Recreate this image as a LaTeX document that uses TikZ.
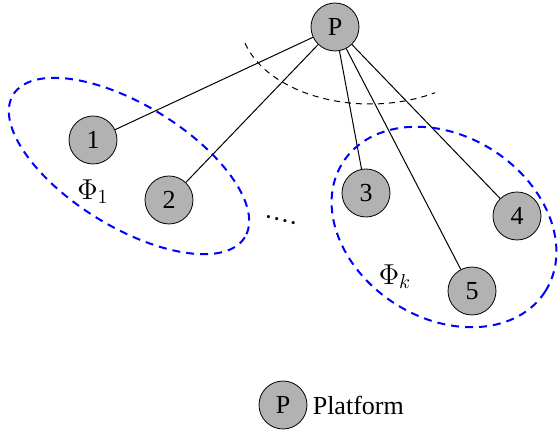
\documentclass[tikz,border=0pt]{standalone}
\usepackage{fontspec}
\setmainfont{Liberation Serif}
\usepackage{tikz}
\usetikzlibrary{positioning}

\begin{document}
\begin{tikzpicture}[x=0.5pt,y=-0.5pt,
    font=\fontsize{13}{15}\selectfont,
    user/.style={circle,draw,fill=black!30,minimum size=24pt,inner sep=0pt},
    cluster/.style={draw=blue,dashed,line width=1pt,dash pattern=on 4pt off 3pt}]
    \useasboundingbox (0,0) rectangle (558,432);

    % Platform and users
    \node[user] (P) at (335,27) {P};
    \node[user] (n1) at (93,140) {1};
    \node[user] (n2) at (169,200) {2};
    \node[user] (n3) at (366,193) {3};
    \node[user] (n4) at (517,216) {4};
    \node[user] (n5) at (472,291) {5};

    % Links
    \draw[line width=0.5pt] (P) -- (n1);
    \draw[line width=0.5pt] (P) -- (n2);
    \draw[line width=0.5pt] (P) -- (n3);
    \draw[line width=0.5pt] (P) -- (n4);
    \draw[line width=0.5pt] (P) -- (n5);

    % Range of the platform
    \coordinate (arcC) at (370,20);
    \draw[line width=0.5pt,dash pattern=on 3pt off 2.5pt] (arcC) ++(164:130 and 84)
        arc[start angle=164,end angle=60,x radius=130,y radius=84];

    % Clusters
    \draw[cluster] (129,166) ellipse[x radius=136,y radius=61,rotate=-31.6];
    \draw[cluster] (444,227) ellipse[x radius=120,y radius=91,rotate=-32.5];
    \node[font=\fontsize{14}{16}\selectfont] (phi1) at (93,192) {$\Phi_1$};
    \node[font=\fontsize{14}{16}\selectfont] (phik) at (395,277) {$\Phi_k$};
    \node[rotate=-13] (dots) at (281,220) {.\kern1pt.\kern1pt.\kern1pt.};

    % Legend
    \node[user] (legP) at (283,405) {P};
    \node[right=0pt of legP,inner sep=2.5pt] (legtext) {Platform};
\end{tikzpicture}
\end{document}
